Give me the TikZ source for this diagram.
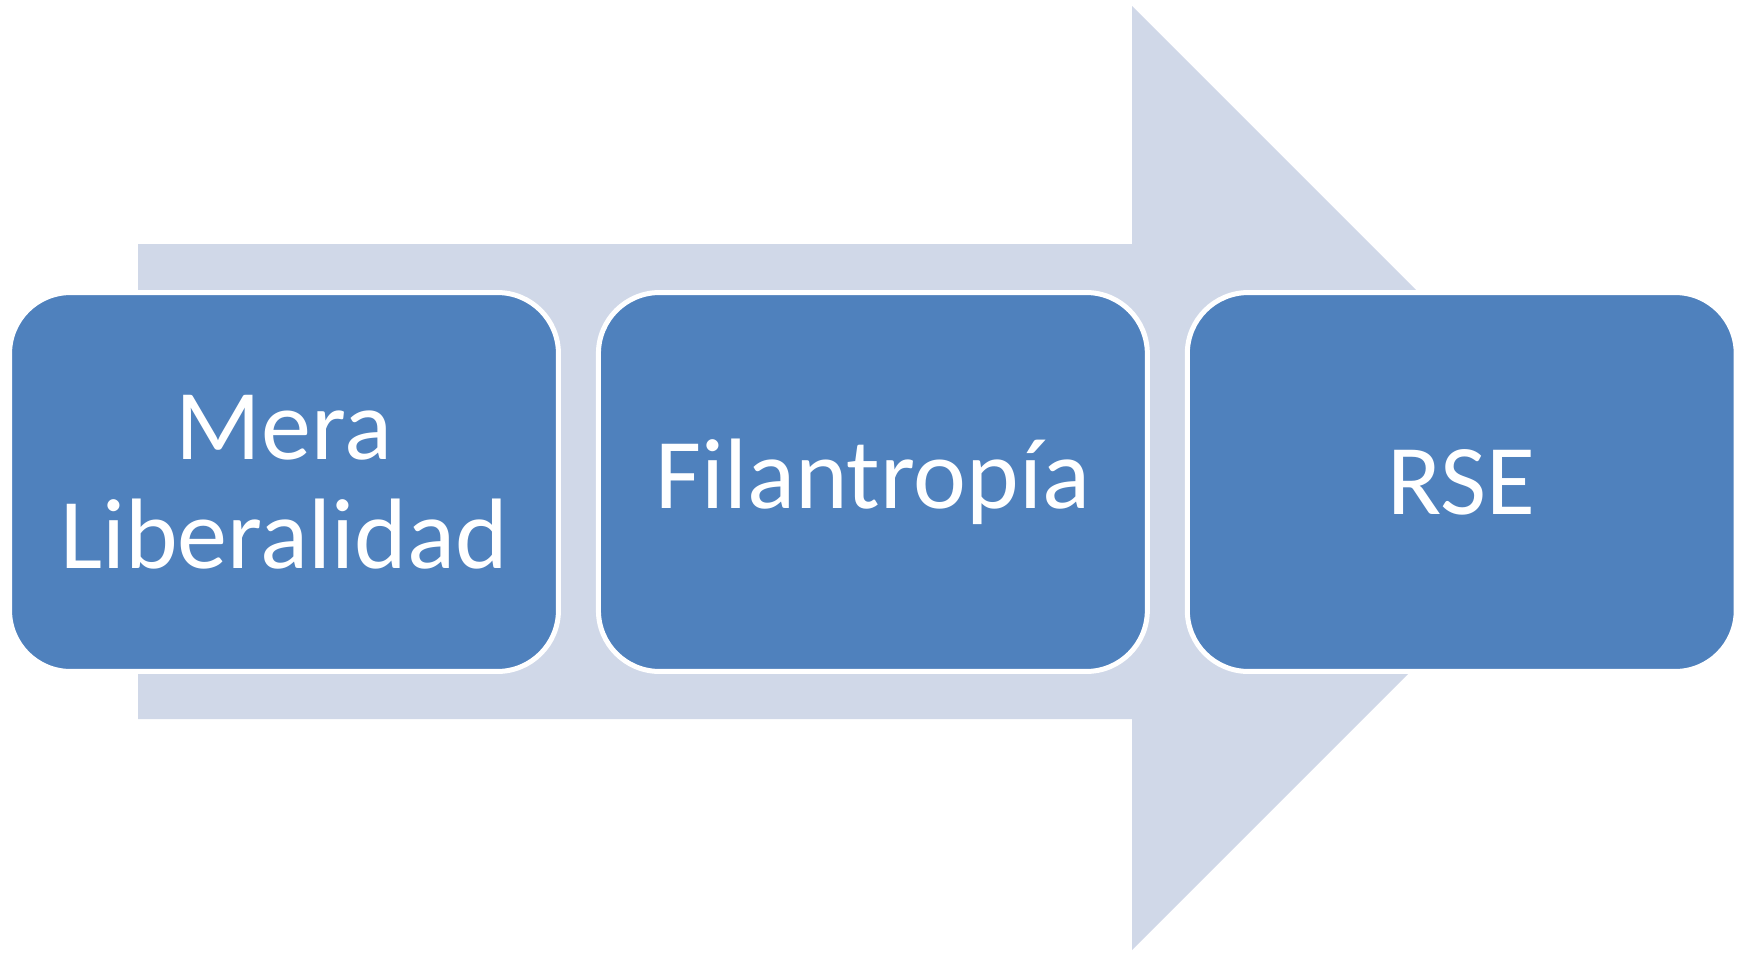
\documentclass[tikz,border=0pt]{standalone}
\usepackage{fontspec}
\setmainfont{Carlito}
\usetikzlibrary{positioning}
\definecolor{stepblue}{HTML}{4F81BD}
\definecolor{arrowgray}{HTML}{D0D8E8}

\begin{document}
\begin{tikzpicture}[x=0.02cm,y=-0.02cm]
 \tikzstyle{stagebox} = [draw=white,line width=0.1cm,fill=stepblue,rounded corners=1.22cm,
   minimum width=10.98cm,minimum height=7.58cm,text=white,align=center,
   font=\fontsize{57}{62}\selectfont]
 \tikzstyle{bigarrow} = [fill=arrowgray]

 \useasboundingbox (0,0) rectangle (1745,957);

% Background arrow
 \fill[bigarrow] (138,244) -- (1132,244) -- (1132,6) -- (1604,478)
   -- (1132,950) -- (1132,719) -- (138,719) -- cycle;

% Stages
 \node[stagebox] (lib) at (284,482) {Mera\\Liberalidad};
 \node[stagebox,right=0.7cm of lib] (fil) {Filantropía};
 \node[stagebox,right=0.7cm of fil] (rse) {RSE};

\end{tikzpicture}
\end{document}
